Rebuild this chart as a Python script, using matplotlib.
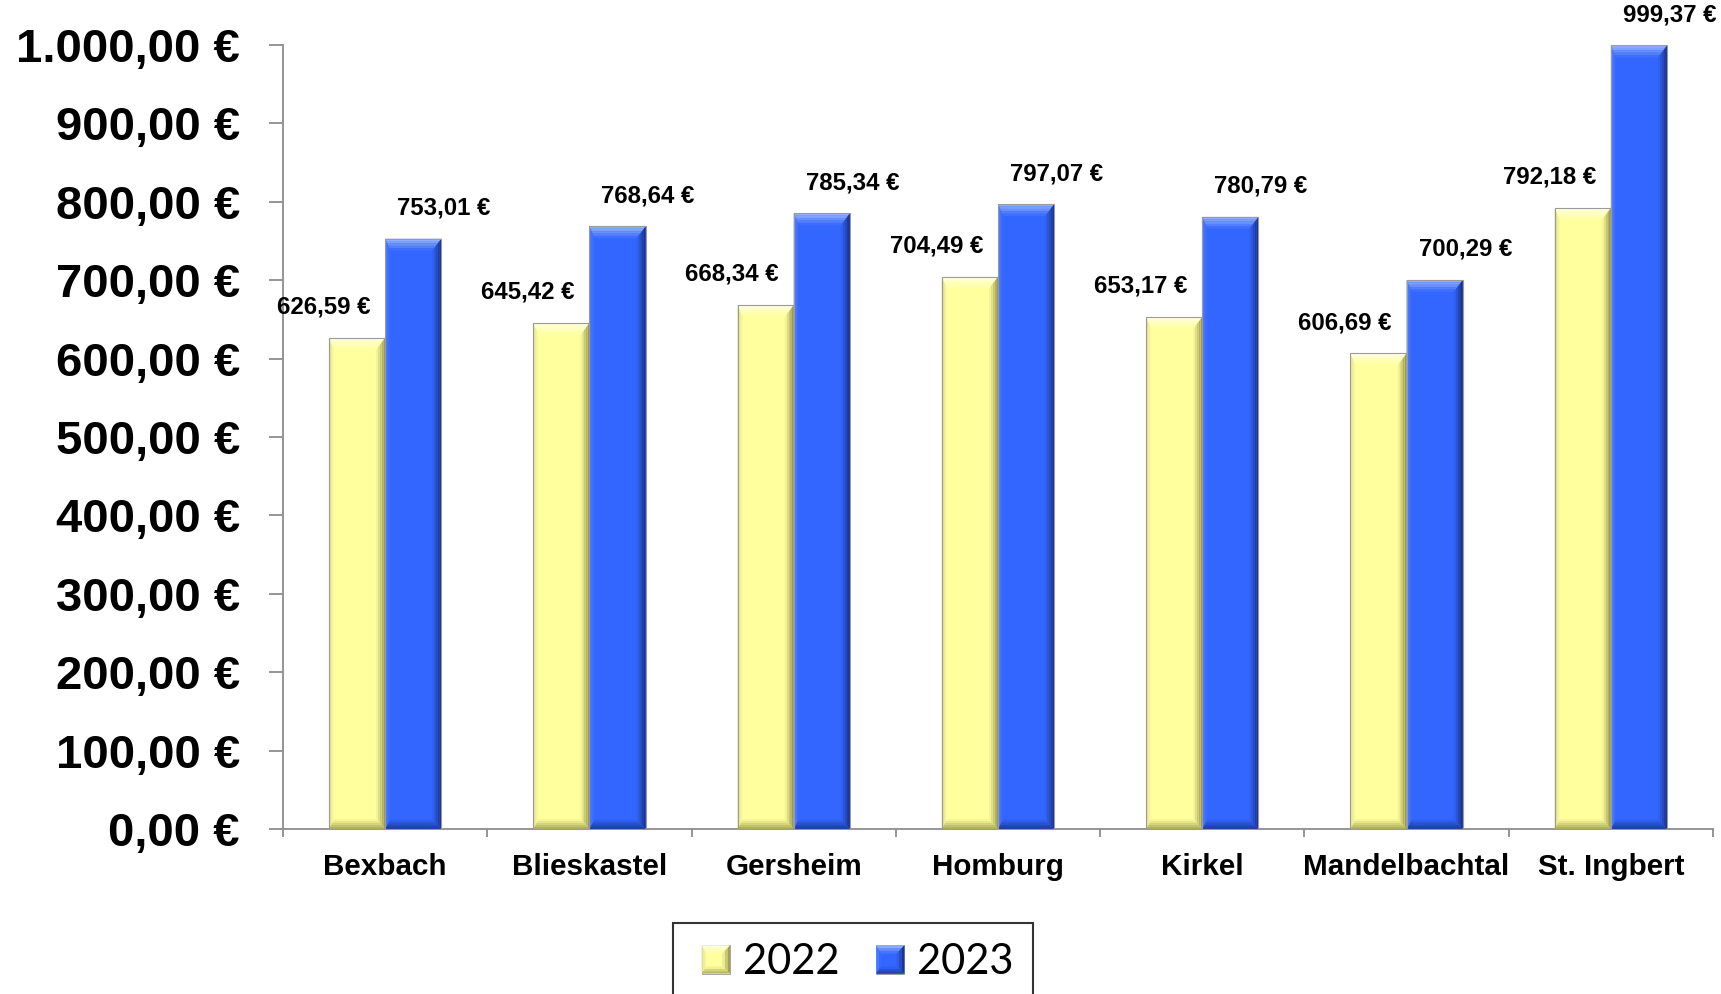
import matplotlib
matplotlib.use('Agg')
import matplotlib.pyplot as plt
from matplotlib.patches import Polygon, Rectangle
from matplotlib.legend_handler import HandlerBase
import matplotlib.colors as mcolors
import numpy as np

# Daten
orte = ['Bexbach', 'Blieskastel', 'Gersheim', 'Homburg', 'Kirkel',
        'Mandelbachtal', 'St. Ingbert']
werte_2022 = [626.59, 645.42, 668.34, 704.49, 653.17, 606.69, 792.18]
werte_2023 = [753.01, 768.64, 785.34, 797.07, 780.79, 700.29, 999.37]
jahre = ['2022', '2023']
y_ticks = [0, 100, 200, 300, 400, 500, 600, 700, 800, 900, 1000]

# Farben (Fläche, oben, links, rechts, unten) - jeweils Farbe an der Außenkante
farben_gelb = ['#FFFF9E', '#FFFFE6', '#D9D98E', '#8F8F48', '#A8A858']
farben_blau = ['#3366FF', '#9CBAFF', '#5585FF', '#182C78', '#1E3A9A']


def euro(v, nachkomma=2):
    s = f'{v:,.{nachkomma}f}'
    s = s.replace(',', 'X').replace('.', ',').replace('X', '.')
    return s + ' €'


def mischen(c1, c2, t):
    a = np.array(mcolors.to_rgb(c1))
    b = np.array(mcolors.to_rgb(c2))
    return tuple(a + (b - a) * t)


def bevel_polygone(x0, x1, y0, y1, dx, dy, farben, n=5, **kw):
    # verschachtelte Rahmen, Farbe läuft von der Kante zur Fläche
    polys = []
    dxl = dx * 0.6
    for k in range(n):
        t0, t1 = k / n, (k + 1) / n
        tm = (k + 0.5) / n
        a = [(x0 + t0 * dxl, y0 + t0 * dy), (x0 + t0 * dxl, y1 - t0 * dy * 1.2),
             (x1 - t0 * dx, y1 - t0 * dy * 1.2), (x1 - t0 * dx, y0 + t0 * dy)]
        b = [(x0 + t1 * dxl, y0 + t1 * dy), (x0 + t1 * dxl, y1 - t1 * dy * 1.2),
             (x1 - t1 * dx, y1 - t1 * dy * 1.2), (x1 - t1 * dx, y0 + t1 * dy)]
        # links, oben, rechts, unten
        seiten = [([a[0], a[1], b[1], b[0]], farben[2]),
                  ([a[1], a[2], b[2], b[1]], farben[1]),
                  ([a[2], a[3], b[3], b[2]], farben[3]),
                  ([a[3], a[0], b[0], b[3]], farben[4])]
        for pts, c in seiten:
            polys.append(Polygon(pts, closed=True, facecolor=mischen(c, farben[0], tm),
                                 edgecolor='none', **kw))
    return polys


def bevel(ax, balken, farben, bx, by):
    for b in balken:
        x0 = b.get_x()
        x1 = x0 + b.get_width()
        h = b.get_height()
        for p in bevel_polygone(x0, x1, 0, h, 9 * bx, 10 * by, farben, zorder=3):
            ax.add_patch(p)
        ax.add_patch(Rectangle((x0, 0), x1 - x0, h, fill=False,
                               edgecolor='#9A9A9A', linewidth=0.8, zorder=4))


class BevelHandler(HandlerBase):
    def __init__(self, farben):
        super().__init__()
        self.farben = farben

    def create_artists(self, legend, orig_handle, xdescent, ydescent, width, height,
                       fontsize, trans):
        # Quadrat rechtsbuendig im Handle-Bereich
        x1, y0 = -xdescent + width, -ydescent
        x0, y1 = x1 - height, y0 + height
        grund = Rectangle((x0, y0), height, height, facecolor=self.farben[0],
                          edgecolor='#9A9A9A', linewidth=0.6, transform=trans)
        teile = [grund] + bevel_polygone(x0, x1, y0, y1, height * 0.28, height * 0.25,
                                         self.farben, n=3, transform=trans)
        return teile


plt.rcParams['font.family'] = ['Liberation Sans', 'DejaVu Sans']

fig = plt.figure(figsize=(17.21, 9.94), dpi=100)
ax = fig.add_axes([283 / 1721, 1 - 829 / 994, (1713 - 283) / 1721, (829 - 45) / 994])

x = np.arange(len(orte))
breite = 0.275
ax.set_xlim(-0.5, len(orte) - 0.5)
ax.set_ylim(0, 1000)

b22 = ax.bar(x - breite / 2, werte_2022, breite, color=farben_gelb[0], zorder=2)
b23 = ax.bar(x + breite / 2, werte_2023, breite, color=farben_blau[0], zorder=2)

# Pixelgroesse in Dateneinheiten
inv = ax.transData.inverted()
p0 = inv.transform((0, 0))
p1 = inv.transform((1, 1))
bx = (p1[0] - p0[0])
by = (p1[1] - p0[1])
bevel(ax, b22, farben_gelb, bx, by)
bevel(ax, b23, farben_blau, bx, by)

# Beschriftungen
for xi, v in zip(x, werte_2022):
    ax.annotate(euro(v), (xi - breite / 2, v), xytext=(-24, 22), textcoords='offset points',
                ha='center', va='center', fontsize=17.3, fontweight='bold',
                annotation_clip=False, zorder=5)
for xi, v in zip(x, werte_2023):
    ax.annotate(euro(v), (xi + breite / 2, v), xytext=(22, 22), textcoords='offset points',
                ha='center', va='center', fontsize=17.3, fontweight='bold',
                annotation_clip=False, zorder=5)

# Achsen
for s in ['top', 'right']:
    ax.spines[s].set_visible(False)
for s in ['left', 'bottom']:
    ax.spines[s].set_color('#8C8C8C')
    ax.spines[s].set_linewidth(1.3)

ax.set_yticks(y_ticks)
ax.set_yticklabels([euro(v) for v in y_ticks], fontsize=34, fontweight='bold')
ax.tick_params(axis='y', length=10, width=1.3, color='#8C8C8C', pad=21)

ax.set_xticks(np.arange(-0.5, len(orte), 1.0))
ax.set_xticklabels([])
ax.tick_params(axis='x', which='major', length=6, width=1.3, color='#8C8C8C', direction='out')
ax.set_xticks(x, minor=True)
ax.set_xticklabels(orte, minor=True, fontsize=21.3, fontweight='bold')
ax.tick_params(axis='x', which='minor', length=0, pad=17)

# Legende
handles = [Rectangle((0, 0), 1, 1), Rectangle((0, 0), 1, 1)]
leg = fig.legend(handles, jahre, loc='upper center', bbox_to_anchor=(853 / 1721, 1 - 923 / 994),
                 ncol=2, frameon=True, fancybox=False, borderaxespad=0,
                 prop={'family': 'Lato', 'size': 30}, handlelength=0.9, handleheight=0.67,
                 handletextpad=0.3, columnspacing=0.67, borderpad=0.48,
                 handler_map={handles[0]: BevelHandler(farben_gelb),
                              handles[1]: BevelHandler(farben_blau)})
leg.get_frame().set_edgecolor('black')
leg.get_frame().set_linewidth(1.5)

fig.savefig('out.png', dpi=100)
